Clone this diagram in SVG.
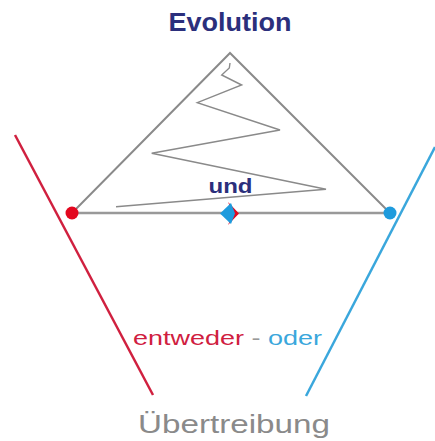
<svg xmlns="http://www.w3.org/2000/svg" width="435" height="441" viewBox="0 0 435 441">
<style>
.navy{fill:#2b2f7c;font-family:"Liberation Sans",Arial,sans-serif;font-weight:bold}
.lbl{font-family:"Liberation Sans",Arial,sans-serif}
.gray{stroke:#8a8a8a;fill:none;stroke-linejoin:miter}
</style>
<rect width="435" height="441" fill="#ffffff"/>
<g id="title"><text class="navy" x="230" y="31" font-size="25" text-anchor="middle" textLength="123" lengthAdjust="spacingAndGlyphs">Evolution</text></g>
<g id="connectors">
<polygon class="gray" points="230,53 72,213 390,213" stroke-width="2" stroke="#8a8a8a"/>
<line x1="72" y1="213" x2="390" y2="213" stroke="#999" stroke-width="2.5"/>
<polyline class="gray" stroke-width="1.4" stroke="#999" points="230,63 229.3,68 221.7,75 241.7,85 197.3,102.7 280,130 151.7,153.3 326,189.3 116,206.7"/>
<line x1="15" y1="135" x2="153" y2="395" stroke="#d0203f" stroke-width="2.5"/>
<line x1="435" y1="147" x2="306" y2="396" stroke="#3aa7dc" stroke-width="2.5"/>
</g>
<g id="left-dot"><circle cx="72" cy="213" r="6.5" fill="#e3071f"/></g>
<g id="right-dot"><circle cx="390" cy="213" r="6.5" fill="#1e9bdd"/></g>
<g id="center-marker">
<polygon points="228,202 239,213.5 228,225 233,213.5" fill="#e3071f"/>
<polygon points="231,203 220,213.5 231,224 235,213.5" fill="#1e9bdd"/>
</g>
<g id="und"><text class="navy" x="230.5" y="193" font-size="20" text-anchor="middle" textLength="44" lengthAdjust="spacingAndGlyphs">und</text></g>
<g id="entweder-oder"><text class="lbl" x="133" y="345" font-size="21" textLength="189" lengthAdjust="spacingAndGlyphs"><tspan fill="#d0203f">entweder</tspan><tspan fill="#999"> - </tspan><tspan fill="#3aa7dc">oder</tspan></text></g>
<g id="uebertreibung"><text class="lbl" x="234" y="433" font-size="25" fill="#8a8a8a" text-anchor="middle" textLength="192" lengthAdjust="spacingAndGlyphs">Übertreibung</text></g>
</svg>
